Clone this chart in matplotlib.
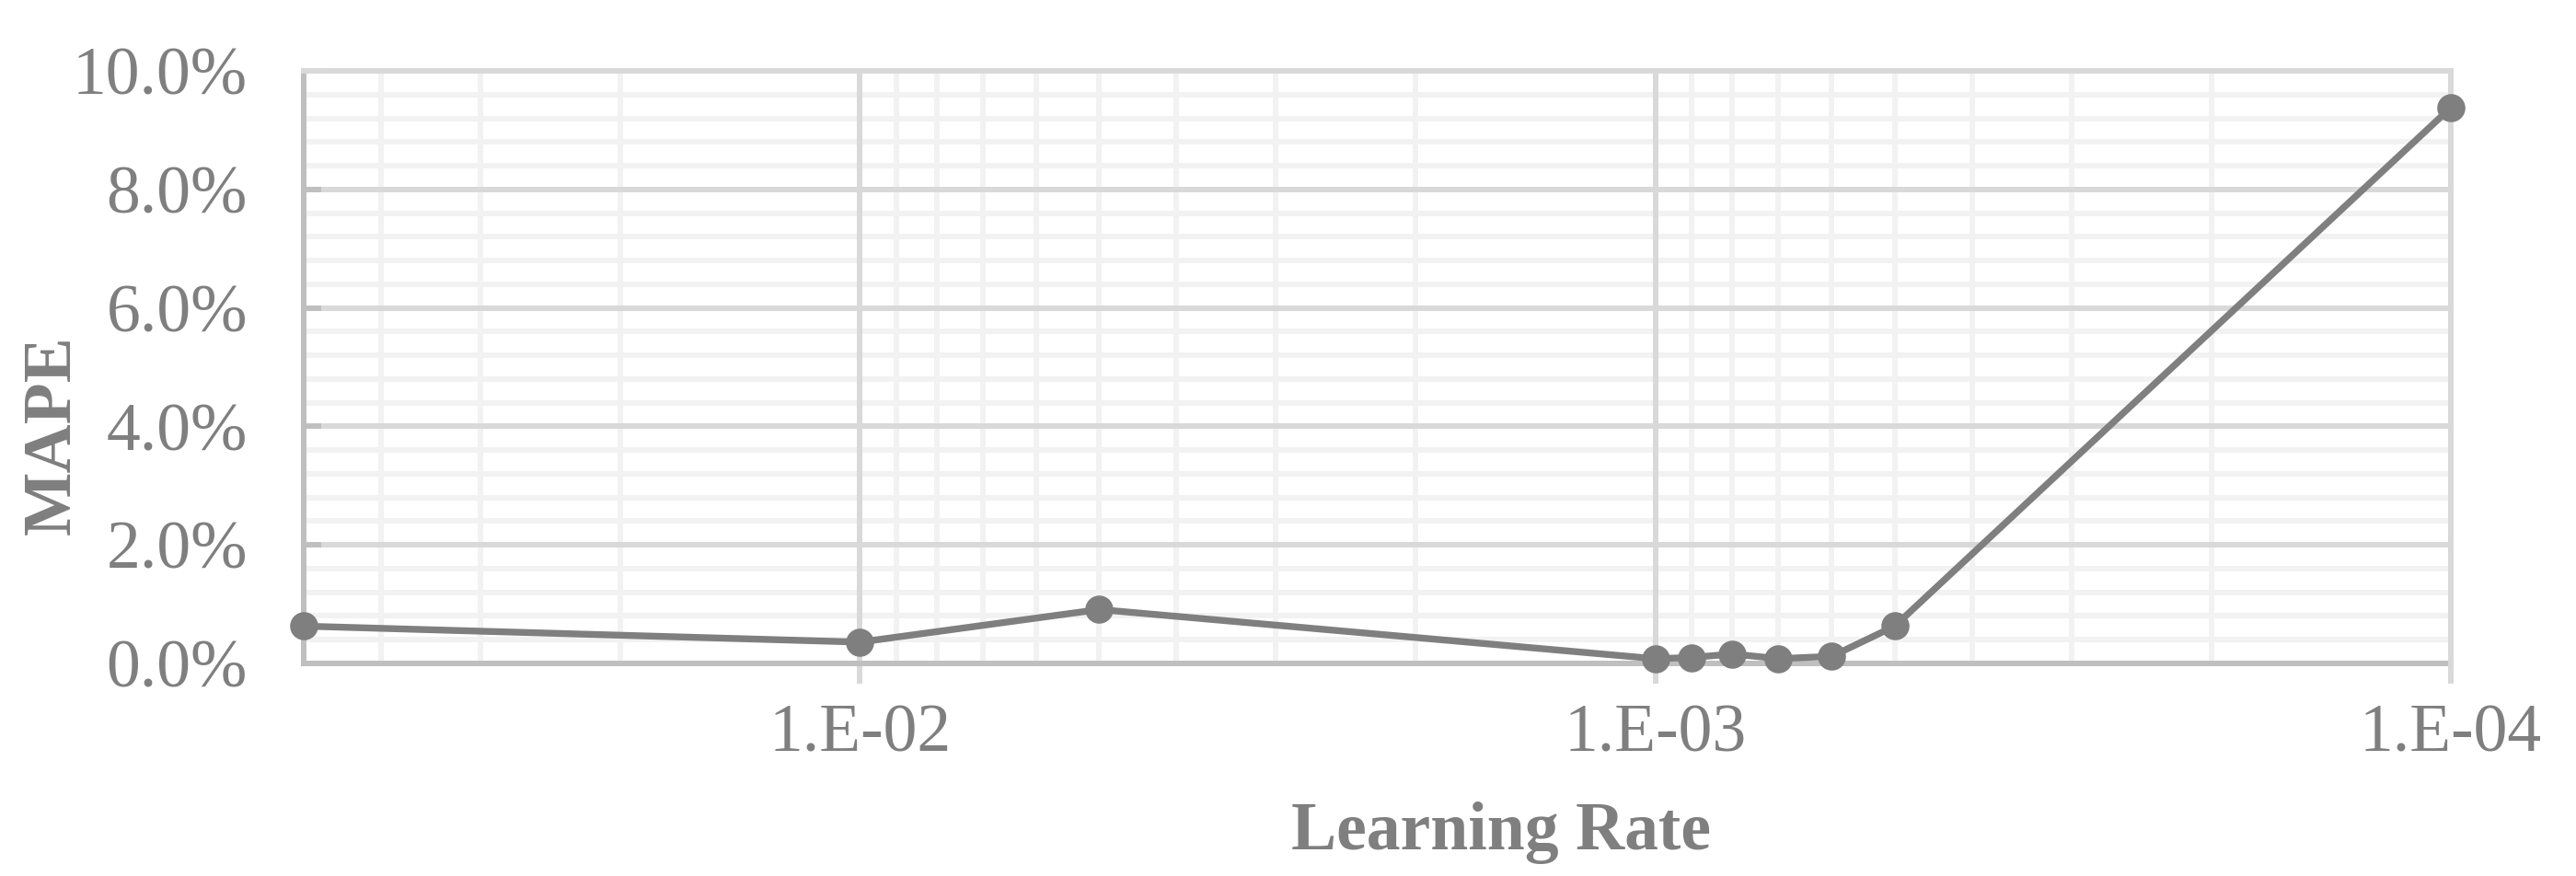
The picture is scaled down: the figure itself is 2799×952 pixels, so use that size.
import matplotlib
matplotlib.use("Agg")
import matplotlib.pyplot as plt
from matplotlib.ticker import FixedLocator, FuncFormatter, MultipleLocator, LogLocator, NullFormatter

learning_rate = [5e-2, 1e-2, 5e-3, 1e-3, 9e-4, 8e-4, 7e-4, 6e-4, 5e-4, 1e-4]
mape = [0.63, 0.36, 0.91, 0.08, 0.10, 0.16, 0.08, 0.12, 0.63, 9.38]  # percent
x_ticks = [1e-2, 1e-3, 1e-4]
x_tick_labels = ["1.E-02", "1.E-03", "1.E-04"]
x_label = "Learning Rate"
y_label = "MAPE"

W, H = 2799, 952
DPI = 100
fig = plt.figure(figsize=(W / DPI, H / DPI), dpi=DPI)
L, R, T, B = 330, 2663, 77, 721
ax = fig.add_axes([L / W, 1 - B / H, (R - L) / W, (B - T) / H])

TXT = "#7f7f7f"
MAJ = "#d9d9d9"
MIN = "#f2f2f2"
AXC = "#bfbfbf"
LW = 4.3
FONT = "Liberation Serif"
FS = 53

ax.set_xscale("log")
ax.set_xlim(5e-2, 1e-4)
ax.set_ylim(0, 10)

ax.xaxis.set_major_locator(FixedLocator(x_ticks))
ax.xaxis.set_major_formatter(FuncFormatter(lambda v, p: x_tick_labels[x_ticks.index(v)] if v in x_ticks else ""))
ax.xaxis.set_minor_locator(LogLocator(base=10, subs=[2, 3, 4, 5, 6, 7, 8, 9]))
ax.xaxis.set_minor_formatter(NullFormatter())
ax.yaxis.set_major_locator(MultipleLocator(2))
ax.yaxis.set_minor_locator(MultipleLocator(0.4))
ax.yaxis.set_major_formatter(FuncFormatter(lambda v, p: f"{v:.1f}%"))

# gridlines drawn manually so that major lines sit on top of minor lines
for v in ax.xaxis.get_minorticklocs():
    ax.axvline(v, color=MIN, linewidth=LW, zorder=0.1)
for v in ax.yaxis.get_minorticklocs():
    ax.axhline(v, color=MIN, linewidth=LW, zorder=0.1)
for v in ax.xaxis.get_majorticklocs():
    ax.axvline(v, color=MAJ, linewidth=LW, zorder=0.3)
for v in ax.yaxis.get_majorticklocs():
    ax.axhline(v, color=MAJ, linewidth=LW, zorder=0.3)

ax.tick_params(axis="x", which="major", direction="out", length=16, width=LW, color=MAJ,
               pad=16, labelsize=FS, labelcolor=TXT)
ax.tick_params(axis="x", which="minor", length=0)
ax.tick_params(axis="y", which="major", direction="in", length=14, width=LW, color=AXC,
               pad=44, labelsize=FS, labelcolor=TXT)
ax.tick_params(axis="y", which="minor", length=0)
for lab in ax.get_xticklabels() + ax.get_yticklabels():
    lab.set_fontfamily(FONT)

for s in ["left", "bottom"]:
    ax.spines[s].set_color(AXC)
    ax.spines[s].set_linewidth(LW)
    ax.spines[s].set_zorder(2)
for s in ["top", "right"]:
    ax.spines[s].set_color(MAJ)
    ax.spines[s].set_linewidth(LW)

ax.plot(learning_rate, mape, color="#7f7f7f", linewidth=5.3, marker="o", markersize=22,
        markeredgewidth=0, zorder=5, clip_on=False)

fig.text(1631 / W, 1 - 905 / H, x_label, ha="center", va="center", fontsize=FS,
         fontweight="bold", color=TXT, family=FONT)
fig.text(58 / W, 1 - 473 / H, y_label, ha="center", va="center", rotation=90, fontsize=FS,
         fontweight="bold", color=TXT, family=FONT)

fig.savefig("out.png", dpi=DPI, facecolor="white")
